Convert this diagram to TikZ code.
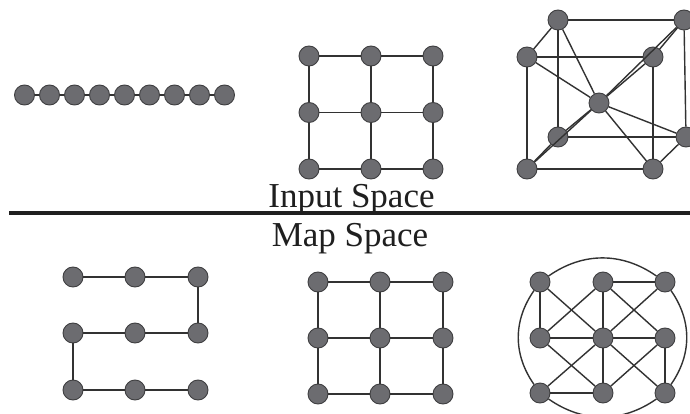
\documentclass[tikz,border=0pt]{standalone}
\usepackage{fontspec}
\setmainfont{Liberation Serif}
\definecolor{dotfill}{RGB}{108,108,112}
\definecolor{dotedge}{RGB}{62,62,64}
\definecolor{linkgray}{RGB}{50,50,50}
\begin{document}
\begin{tikzpicture}[x=1pt,y=-1pt,
  dot/.style={circle,fill=dotfill,draw=dotedge,line width=0.9pt,minimum size=20pt,inner sep=0pt},
  link/.style={draw=linkgray,line width=1.4pt},
  caption/.style={font=\fontsize{35}{40}\selectfont,anchor=base,inner sep=0pt,text=black!88}]
\fill[white] (0,0) rectangle (690,414);
\useasboundingbox (0,0) rectangle (690,414);

% ---- chain of nine units ----
\foreach \i in {0,...,8} \node[dot] (c\i) at (24.5+25*\i,95) {};
\foreach \i/\j in {0/1,1/2,2/3,3/4,4/5,5/6,6/7,7/8} \draw[link] (c\i) -- (c\j);

% ---- 3x3 input grid ----
\foreach \c/\x in {0/309,1/371,2/433}
  \foreach \r/\y in {0/56,1/112.5,2/169}
    \node[dot] (g\c\r) at (\x,\y) {};
\foreach \r in {0,1,2} \draw[link] (g0\r) -- (g1\r) -- (g2\r);
\foreach \c in {0,1,2} \draw[link] (g\c0) -- (g\c1) -- (g\c2);

% ---- body-centred cube ----
\node[dot] (btl) at (558,20) {};
\node[dot] (btr) at (684,20) {};
\node[dot] (ftl) at (527,57) {};
\node[dot] (ftr) at (653,57) {};
\node[dot] (cc)  at (599,103) {};
\node[dot] (bbl) at (558,137) {};
\node[dot] (bbr) at (686,137) {};
\node[dot] (fbl) at (527,169) {};
\node[dot] (fbr) at (653,169) {};
\foreach \a/\b in {btl/btr,btl/ftl,ftl/ftr,btr/ftr,btl/bbl,ftl/fbl,ftr/fbr,btr/bbr,
                   bbl/bbr,fbl/fbr,bbl/fbl,bbr/fbr}
  \draw[link] (\a) -- (\b);
\foreach \a in {btl,btr,ftl,ftr,bbl,bbr,fbl,fbr}
  \draw[link] (cc) -- (\a);

% ---- divider and captions ----
\coordinate (divL) at (9,213);
\coordinate (divR) at (690,213);
\draw[line width=4pt,black!88] (divL) -- (divR);
\node[caption] (inp) at (351.5,207) {Input Space};
\node[caption] (map) at (350,246.7) {Map Space};

% ---- snake mapping ----
\foreach \c/\x in {0/73,1/135,2/198}
  \foreach \r/\y in {0/277,1/333,2/390}
    \node[dot] (s\c\r) at (\x,\y) {};
\draw[link] (s00) -- (s10) -- (s20) -- (s21) -- (s11) -- (s01) -- (s02) -- (s12) -- (s22);

% ---- grid mapping ----
\foreach \c/\x in {0/318,1/380,2/443}
  \foreach \r/\y in {0/282,1/338,2/394}
    \node[dot] (m\c\r) at (\x,\y) {};
\foreach \r in {0,1,2} \draw[link] (m0\r) -- (m1\r) -- (m2\r);
\foreach \c in {0,1,2} \draw[link] (m\c0) -- (m\c1) -- (m\c2);

% ---- cube folded into the map ----
\foreach \c/\x in {0/540,1/603,2/665}
  \foreach \r/\y in {0/282,1/338,2/393}
    \node[dot] (t\c\r) at (\x,\y) {};
\foreach \a/\b in {00/01,00/11,10/20,10/11,10/21,20/11,10/01,01/11,11/21,
                   01/12,11/02,11/22,21/12,11/12,02/12,21/22}
  \draw[link] (t\a) -- (t\b);
\foreach \a/\b in {00/20,20/22,22/02,02/00}
  \draw[link] (t\a) to[bend left=35] (t\b);
\end{tikzpicture}
\end{document}
